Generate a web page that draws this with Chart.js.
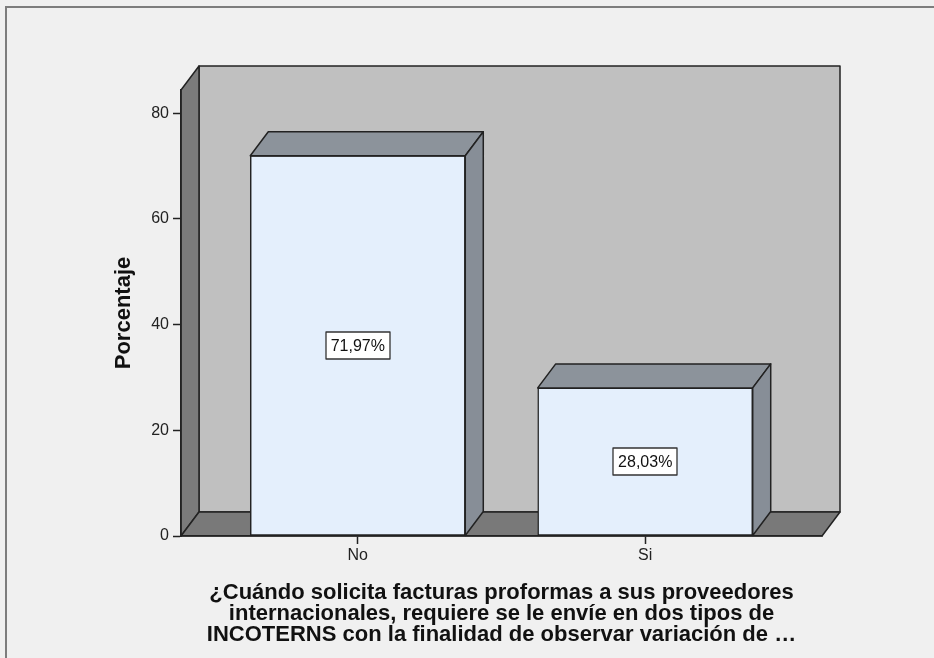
<!DOCTYPE html>
<html>
<head>
<meta charset="utf-8">
<script src="https://cdn.jsdelivr.net/npm/chart.js@4.4.0/dist/chart.umd.min.js"></script>
<style>
  html, body { margin: 0; padding: 0; background: #f0f0f0; }
  body { width: 934px; height: 658px; position: relative; overflow: hidden; }
  .frame { position: absolute; left: 5px; top: 6px; width: 960px; height: 700px;
           border-left: 2px solid #7d7d7d; border-top: 2px solid #7d7d7d; }
  canvas { position: absolute; left: 0; top: 0; }
</style>
</head>
<body>
<div class="frame"></div>
<canvas id="chart" width="934" height="658"></canvas>
<script>
// ---- data ----
const categories = ['No', 'Si'];
const percentages = [71.97, 28.03];
const valueLabels = ['71,97%', '28,03%'];
const yTicks = [0, 20, 40, 60, 80];
const yMax = 84.4;
const xTitle = [
    '¿Cuándo solicita facturas proformas a sus proveedores',
    'internacionales, requiere se le envíe en dos tipos de',
    'INCOTERNS con la finalidad de observar variación de …'
];

// depth of the fake 3d box (px)
const DX = 18, DY = -24;
const EDGE = '#222';

Chart.defaults.font.family = '"Liberation Sans", Arial, sans-serif';

function poly(ctx, pts, fill) {
    ctx.beginPath();
    ctx.moveTo(pts[0][0], pts[0][1]);
    for (let i = 1; i < pts.length; i++) ctx.lineTo(pts[i][0], pts[i][1]);
    ctx.closePath();
    ctx.fillStyle = fill;
    ctx.fill();
    ctx.stroke();
}

//---- back wall, left wall and floor, behind the axes ----//
const walls3d = {
    id: 'walls3d',
    beforeDraw(chart) {
        const ctx = chart.ctx;
        const { left, right, top, bottom } = chart.chartArea;
        ctx.save();
        ctx.lineWidth = 1.5;
        ctx.strokeStyle = EDGE;
        ctx.lineJoin = 'round';
        poly(ctx, [[left + DX, top + DY], [right + DX, top + DY], [right + DX, bottom + DY], [left + DX, bottom + DY]], '#c0c0c0');
        poly(ctx, [[left, top], [left + DX, top + DY], [left + DX, bottom + DY], [left, bottom]], '#7b7b7b');
        poly(ctx, [[left, bottom], [left + DX, bottom + DY], [right + DX, bottom + DY], [right, bottom]], '#797979');
        ctx.restore();
    },
    //---- top + side faces of every bar and the value boxes ----//
    afterDatasetsDraw(chart) {
        const ctx = chart.ctx;
        const meta = chart.getDatasetMeta(0);
        ctx.save();
        ctx.lineWidth = 1.5;
        ctx.strokeStyle = EDGE;
        ctx.lineJoin = 'round';
        meta.data.forEach((bar, i) => {
            const { x, y, base, width } = bar.getProps(['x', 'y', 'base', 'width'], true);
            const x0 = x - width / 2, x1 = x + width / 2;
            poly(ctx, [[x0, y], [x0 + DX, y + DY], [x1 + DX, y + DY], [x1, y]], '#8c939b');
            poly(ctx, [[x1, y], [x1 + DX, y + DY], [x1 + DX, base + DY], [x1, base]], '#878e97');
        });
        ctx.font = '16px "Liberation Sans", Arial, sans-serif';
        ctx.textAlign = 'center';
        ctx.textBaseline = 'middle';
        meta.data.forEach((bar, i) => {
            const { x, y, base } = bar.getProps(['x', 'y', 'base'], true);
            const cy = (y + base) / 2;
            const tw = ctx.measureText(valueLabels[i]).width;
            const w = Math.round(tw + 10), h = 27;
            ctx.fillStyle = '#ffffff';
            ctx.strokeStyle = '#333';
            ctx.lineWidth = 1.3;
            ctx.fillRect(Math.round(x - w / 2), Math.round(cy - h / 2), w, h);
            ctx.strokeRect(Math.round(x - w / 2), Math.round(cy - h / 2), w, h);
            ctx.fillStyle = '#111';
            ctx.fillText(valueLabels[i], x, cy + 1);
        });
        ctx.restore();
    }
};

new Chart(document.getElementById('chart'), {
    type: 'bar',
    data: {
        datasets: [{
            data: percentages.map((v, i) => ({ x: i, y: v })),
            backgroundColor: '#e4effc',
            borderColor: EDGE,
            borderWidth: 1.5,
            borderSkipped: false,
            barThickness: 215
        }]
    },
    options: {
        responsive: false,
        animation: false,
        layout: { padding: { left: 107, right: 112, top: 90, bottom: 9 } },
        plugins: { legend: { display: false }, tooltip: { enabled: false } },
        scales: {
            x: {
                type: 'linear',
                offset: false,
                min: -0.615,
                max: 1.615,
                afterBuildTicks: s => { s.ticks = categories.map((c, i) => ({ value: i })); },
                afterFit: s => { s.height = 113; },
                ticks: {
                    callback: v => categories[v],
                    font: { size: 16 },
                    color: '#222',
                    padding: 2,
                    maxRotation: 0,
                    autoSkip: false
                },
                grid: { offset: false, drawOnChartArea: false, tickLength: 8, tickColor: EDGE, tickWidth: 1.5 },
                border: { display: true, color: EDGE, width: 1.5 },
                title: {
                    display: true,
                    text: xTitle,
                    color: '#111',
                    font: { size: 22, weight: 'bold', lineHeight: 0.94 },
                    padding: { top: 4, bottom: 4 }
                }
            },
            y: {
                min: 0,
                max: yMax,
                afterBuildTicks: s => { s.ticks = yTicks.map(v => ({ value: v })); },
                afterFit: s => { s.width = 74; },
                ticks: { font: { size: 16 }, color: '#222', padding: 4 },
                grid: { drawOnChartArea: false, tickLength: 8, tickColor: EDGE, tickWidth: 1.5 },
                border: { display: true, color: EDGE, width: 1.5 },
                title: {
                    display: true,
                    text: 'Porcentaje',
                    color: '#111',
                    font: { size: 22, weight: 'bold' },
                    padding: { top: 4, bottom: 4 }
                }
            }
        }
    },
    plugins: [walls3d]
});
</script>
</body>
</html>
